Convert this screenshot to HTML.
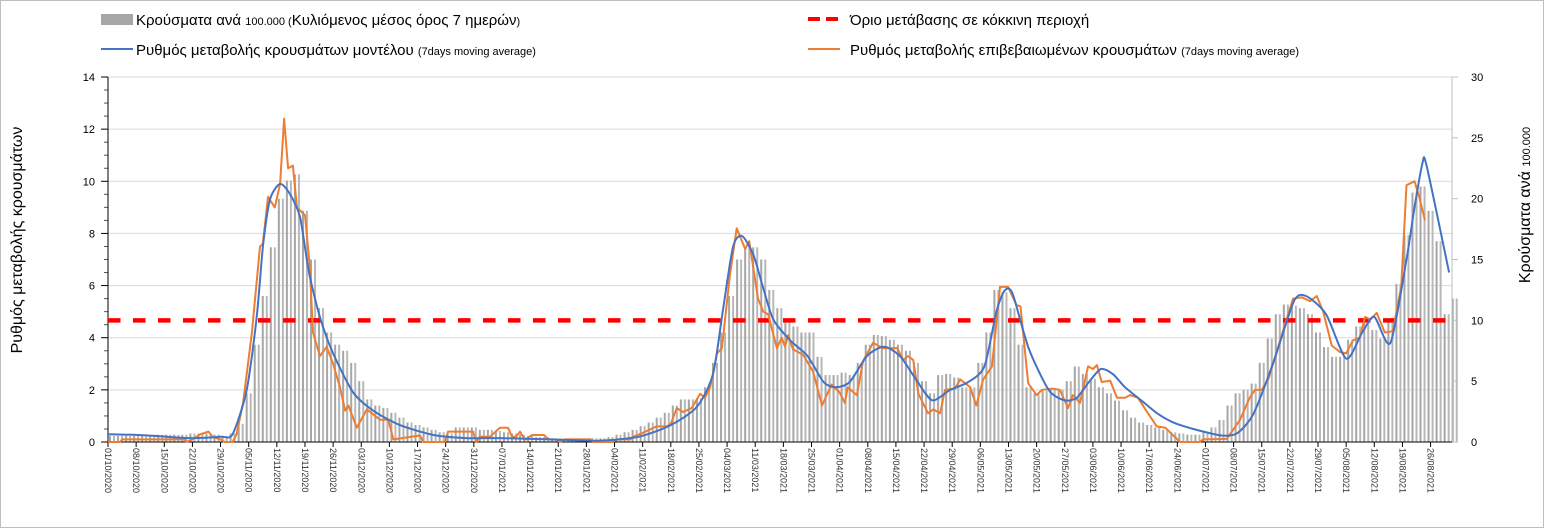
<!DOCTYPE html>
<html><head><meta charset="utf-8"><style>
html,body{margin:0;padding:0;background:#fff;}
svg{display:block;font-family:"Liberation Sans",sans-serif;}
</style></head><body>
<svg id="chart" width="1545" height="529" viewBox="0 0 1545 529" xmlns="http://www.w3.org/2000/svg">
<rect x="0.5" y="0.5" width="1543" height="527" fill="#fff" stroke="#bfbfbf"/>
<g id="grid"></g>
<g id="bars"></g>
<g id="axes"></g>
<g id="lines"></g>
<g>
  <rect x="101" y="14" width="32" height="11" fill="#a6a6a6"/>
  <text x="136" y="25" font-size="15" fill="#000">Κρούσματα ανά <tspan font-size="11">100.000 (</tspan>Κυλιόμενος μέσος όρος 7 ημερών<tspan font-size="11">)</tspan></text>
  <line x1="808" y1="19" x2="842" y2="19" stroke="#ff0000" stroke-width="4" stroke-dasharray="12,6"/>
  <text x="850" y="25" font-size="15" fill="#000">Όριο μετάβασης σε κόκκινη περιοχή</text>
  <line x1="101" y1="49" x2="133" y2="49" stroke="#4472c4" stroke-width="2"/>
  <text x="136" y="55" font-size="15" fill="#000">Ρυθμός μεταβολής κρουσμάτων μοντέλου <tspan font-size="11">(7days moving average)</tspan></text>
  <line x1="808" y1="49" x2="840" y2="49" stroke="#ed7d31" stroke-width="2"/>
  <text x="850" y="55" font-size="15" fill="#000">Ρυθμός μεταβολής επιβεβαιωμένων κρουσμάτων <tspan font-size="11">(7days moving average)</tspan></text>
</g>
<text transform="translate(22,240) rotate(-90)" text-anchor="middle" font-size="16" fill="#000">Ρυθμός μεταβολής κρουσμάτων</text>
<text transform="translate(1530,205) rotate(-90)" text-anchor="middle" font-size="16" fill="#000">Κρούσματα ανά <tspan font-size="11">100.000</tspan></text>
</svg>
<script>
const leftTicks=[0,2,4,6,8,10,12,14];
const rightTicks=[0,5,10,15,20,25,30];
const dateLabels=["01/10/2020","08/10/2020","15/10/2020","22/10/2020","29/10/2020","05/11/2020","12/11/2020","19/11/2020","26/11/2020","03/12/2020","10/12/2020","17/12/2020","24/12/2020","31/12/2020","07/01/2021","14/01/2021","21/01/2021","28/01/2021","04/02/2021","11/02/2021","18/02/2021","25/02/2021","04/03/2021","11/03/2021","18/03/2021","25/03/2021","01/04/2021","08/04/2021","15/04/2021","22/04/2021","29/04/2021","06/05/2021","13/05/2021","20/05/2021","27/05/2021","03/06/2021","10/06/2021","17/06/2021","24/06/2021","01/07/2021","08/07/2021","15/07/2021","22/07/2021","29/07/2021","05/08/2021","12/08/2021","19/08/2021","26/08/2021"];
const threshold=10;
// bars: one value per 2 days, starting day 0
const barVals=[0.5,0.5,0.5,0.5,0.5,0.5,0.6,0.6,0.6,0.6,0.7,0.7,0.7,0.6,0.5,0.7,1.5,4,8,12,16,20,21.5,22,19,15,11,9,8,7.5,6.5,5,3.5,3,2.8,2.4,2,1.6,1.4,1.2,1,0.8,0.7,1.2,1.2,1.2,1,1,0.9,0.8,0.7,0.6,0.5,0.4,0.4,0.3,0.3,0.3,0.3,0.3,0.3,0.3,0.4,0.6,0.8,1,1.3,1.6,2,2.4,3,3.5,3.5,3.6,4.5,6.5,9,12,15,16,16,15,12.5,11,10,9.5,9,9,7,5.5,5.5,5.7,5.5,6.5,8,8.8,8.7,8.4,8,7.5,6.5,5,4,5.5,5.6,5.3,4.5,4.5,6.5,9,12.5,12.3,11,8,4.5,4,4.2,4.3,4.3,5,6.2,5.6,5.2,4.5,4,3.4,2.6,2,1.6,1.4,1.2,1,0.8,0.7,0.6,0.6,0.8,1.2,1.8,3,4,4.3,4.8,6.5,8.5,10.5,11.3,11.2,11,10.5,9,7.8,7,7,8.4,9.5,10,9.2,8.5,10,13,17,20.5,21,19,16.5,10.5,11.8];
const blueDays=[0,10,20,28,31,34.5,37,38.6,40.3,42.8,45.3,47.8,50,52.7,56,61,66,72.6,81,89,97.5,110,122,132,140,146.5,150.5,153,155.5,157.7,160.5,163,165.5,169.7,174,178,181,184.5,188.8,193,197,201,205,209.5,214,218,221,223,225,229,234,238,241,244,247,250,253,257,261,265,270,277,281,285,290,295,298,303,308,312,315,319,323,325,327,328,333.6];
const blueVals=[0.3,0.25,0.15,0.2,0.3,2.0,4.8,7.6,9.3,9.9,9.5,8.6,6.5,4.8,3.4,1.9,1.2,0.65,0.27,0.15,0.15,0.1,0.05,0.2,0.65,1.35,2.6,5.1,7.5,7.9,7.2,5.9,4.7,3.9,3.3,2.3,2.1,2.3,3.3,3.65,3.3,2.4,1.6,2.0,2.3,2.9,5.0,5.8,5.7,3.6,2.0,1.6,1.7,2.3,2.8,2.6,2.1,1.6,1.1,0.75,0.5,0.25,0.35,1.1,3.1,5.4,5.6,4.9,3.2,4.2,4.8,3.8,7.0,9.0,10.7,10.6,6.5];
const orangeDays=[0,3,3.5,19,19.5,21,22,23,25,26,28,29,31,32,33.6,35.8,37.8,38.5,39.8,41.5,42.8,43.8,44.8,46,47,49,50.2,51,52.7,54.4,56,57.7,59,59.8,61.9,64.4,67.7,69.7,71,77.6,78.4,83.8,84.6,90.8,91.6,92.5,95,97.5,99.5,100.5,101.5,102.5,103.7,105.5,108.5,109.5,111.5,112.4,113.7,120,120.7,125.6,126.5,129.9,130.6,133,136.5,139,140,141.5,143,145.2,147.3,148.5,149.8,151.5,152.7,154.7,156.4,158.5,159.5,161.7,163,164.2,166.4,167.6,168.4,169.2,170.4,172.9,175.4,177.6,180,182,183.3,184,186.3,187.8,190.3,192.8,196.3,197.8,199,200.3,201.6,204,205.3,207,208.2,210.7,212,214.5,216,217.7,219.9,221.9,223.9,226,227,228.9,231,232.3,235,236.8,238.8,240,241.8,243.8,245,246,247.2,249.3,251,253,254.2,256.2,258.7,260.9,263,266.7,271.6,272.4,278.3,281.6,284,285.3,287,288.6,290.8,292,294.8,297,299,300.7,302.3,304.4,306.5,308,309.7,311.4,312.7,314,315.6,317.6,319.6,321.7,323,325,326,327.6];
const orangeVals=[0,0,0.1,0.1,0,0.1,0.2,0.3,0.4,0.2,0.1,0,0,0.3,1.5,4.2,7.5,7.6,9.4,9.0,9.9,12.4,10.5,10.6,9.0,8.7,6.7,4.2,3.3,3.65,3.0,2.1,1.2,1.4,0.55,1.25,0.85,0.85,0.1,0.25,0,0,0.4,0.4,0,0.2,0.2,0.55,0.55,0.2,0.2,0.4,0.08,0.27,0.27,0.1,0.1,0,0.1,0.1,0,0,0.1,0.1,0.2,0.35,0.6,0.6,0.7,1.3,1.15,1.3,1.85,1.7,2.1,3.4,3.6,6.4,8.2,7.4,7.7,5.5,5.0,4.9,3.6,4.0,3.65,4.1,3.55,3.35,2.7,1.4,2.2,1.9,1.5,2.1,1.8,3.1,3.8,3.6,3.6,3.15,3.3,3.15,1.85,1.1,1.25,1.1,2.0,2.05,2.4,2.1,1.4,2.4,2.9,5.95,5.95,5.25,5.2,2.25,1.8,2.0,2.05,2.0,1.3,1.8,1.5,2.9,2.8,2.95,2.3,2.35,1.7,1.7,1.8,1.7,1.1,0.6,0.55,0,0,0.1,0.12,0.85,1.7,2.0,2.0,2.4,3.5,4.1,5.5,5.55,5.4,5.6,5.0,3.7,3.45,3.4,3.9,4.0,4.8,4.7,4.95,4.2,4.25,5.95,9.85,10.0,9.5,8.5];

const NS="http://www.w3.org/2000/svg";
const X0=108,PX_PER_DAY=4.02,Y0=442,Y1=77;
function xDay(d){return X0+d*PX_PER_DAY;}
function yLeft(v){return Y0-(v/14)*(Y0-Y1);}
function yRight(v){return Y0-(v/30)*(Y0-Y1);}
function mk(tag,attrs,parent){const e=document.createElementNS(NS,tag);for(const k in attrs)e.setAttribute(k,attrs[k]);parent.appendChild(e);return e;}
const grid=document.getElementById('grid'),axes=document.getElementById('axes'),bars=document.getElementById('bars'),lines=document.getElementById('lines');

leftTicks.forEach(v=>{
  if(v>0){const g=mk('line',{x1:X0,x2:1452,y1:yLeft(v),y2:yLeft(v),stroke:'#d9d9d9','stroke-width':1},grid);
  
  }
  const t=mk('line',{x1:X0-7,x2:X0,y1:yLeft(v),y2:yLeft(v),stroke:'#000'},axes);
  
  
  const l=mk('text',{x:X0-13,y:yLeft(v)+4,'text-anchor':'end','font-size':11,fill:'#000'},axes);
  l.textContent=v;
  
  
});
for(let v=0.5;v<14;v+=0.5){ if(v%2===0)continue;
  const t=mk('line',{x1:X0-4,x2:X0,y1:yLeft(v),y2:yLeft(v),stroke:'#555'},axes);
  
  }
rightTicks.forEach(v=>{
  const t=mk('line',{x1:1452,x2:1458,y1:yRight(v),y2:yRight(v),stroke:'#bfbfbf'},axes);
  
  
  const l=mk('text',{x:1471,y:yRight(v)+4,'font-size':11,fill:'#000'},axes);
  l.textContent=v;
  
  
});
barVals.forEach((v,i)=>{
  for(let k=0;k<2;k++){
    const d=i*2+k; if(d>335)continue;
    const y=yRight(v);
    const r=mk('rect',{x:xDay(d)+1,y:y,width:2,height:Y0-y,fill:(k?'#b8b8b8':'#a6a6a6')},bars);
    
    
  }
});
const la=mk('line',{x1:X0,x2:X0,y1:Y1,y2:Y0,stroke:'#000'},axes);


const ra=mk('line',{x1:1452,x2:1452,y1:Y1,y2:Y0,stroke:'#bfbfbf'},axes);


const xa=mk('line',{x1:X0,x2:1452,y1:Y0,y2:Y0,stroke:'#000'},axes);


dateLabels.forEach((s,i)=>{
  const x=xDay(i*7);
  const t=mk('line',{x1:x,x2:x,y1:Y0,y2:Y0+5,stroke:'#000'},axes);
  
  
  const l=mk('text',{transform:`translate(${x-3},448) rotate(90)`,'font-size':9,fill:'#333'},axes);
  l.textContent=s;
  
  
});
const th=mk('line',{x1:X0,x2:1452,y1:yRight(threshold),y2:yRight(threshold),stroke:'#ff0000','stroke-width':4.5,'stroke-dasharray':'12.5,12.5'},lines);


function poly(days,vals,color,name){
  const p=days.map((d,i)=>xDay(d).toFixed(1)+','+yLeft(vals[i]).toFixed(1)).join(' ');
  const e=mk('polyline',{points:p,fill:'none',stroke:color,'stroke-width':2,'stroke-linejoin':'round'},lines);
  
  
}
function smooth(days,vals,color,name){
  const P=days.map((d,i)=>[xDay(d),yLeft(vals[i])]);
  let s='M'+P[0][0].toFixed(1)+','+P[0][1].toFixed(1);
  for(let i=0;i<P.length-1;i++){
    const p0=P[Math.max(0,i-1)],p1=P[i],p2=P[i+1],p3=P[Math.min(P.length-1,i+2)];
    const c1=[p1[0]+(p2[0]-p0[0])/8,p1[1]+(p2[1]-p0[1])/8];
    const c2=[p2[0]-(p3[0]-p1[0])/8,p2[1]-(p3[1]-p1[1])/8];
    s+=' C'+c1[0].toFixed(1)+','+c1[1].toFixed(1)+' '+c2[0].toFixed(1)+','+c2[1].toFixed(1)+' '+p2[0].toFixed(1)+','+p2[1].toFixed(1);
  }
  const e=mk('path',{d:s,fill:'none',stroke:color,'stroke-width':2},lines);
  
  
}
poly(orangeDays,orangeVals,'#ed7d31','confirmed-rate-line');
smooth(blueDays,blueVals,'#4472c4','model-rate-line');
</script>
</body></html>
